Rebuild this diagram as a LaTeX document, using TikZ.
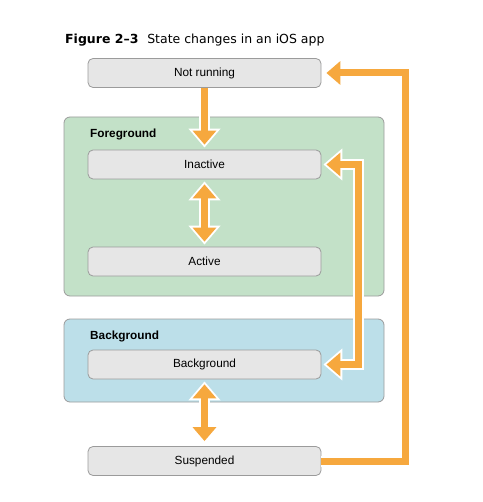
\documentclass[tikz,border=0pt]{standalone}
\usepackage{fontspec}
\setmainfont{Liberation Sans}
\newfontfamily\titlefont{DejaVu Sans}
\usetikzlibrary{positioning}
\usetikzlibrary{arrows.meta}
\definecolor{figNaranja}{RGB}{246,168,62}
\definecolor{figVerde}{RGB}{195,225,200}
\definecolor{figAzul}{RGB}{188,223,233}
\definecolor{figGris}{RGB}{230,230,230}
\definecolor{figGrisBorde}{RGB}{155,155,155}
\tikzset{
  estado/.style={
    rectangle, rounded corners=5pt, draw=figGrisBorde, line width=0.8pt,
    fill=figGris, minimum width=233pt, minimum height=29pt,
    font=\fontsize{11.8}{13}\selectfont, inner sep=0pt
  },
  zona/.style={
    rectangle, rounded corners=6pt, draw=figGrisBorde, line width=0.8pt,
    minimum width=320pt, inner sep=0pt
  },
  zonatit/.style={anchor=base west, inner sep=0pt,
    font=\bfseries\fontsize{11.8}{13}\selectfont},
  flecha/.style={draw=figNaranja, line width=7pt,
    -{Triangle[width=23pt,length=14pt]}, shorten >=5pt,
    preaction={draw=white, line width=11pt,
      -{Triangle[width=31pt,length=19pt]}, shorten >=2pt}},
  flechadoble/.style={draw=figNaranja, line width=7pt,
    {Triangle[width=23pt,length=14pt]}-{Triangle[width=23pt,length=14pt]},
    shorten >=5pt, shorten <=5pt,
    preaction={draw=white, line width=11pt,
      {Triangle[width=31pt,length=19pt]}-{Triangle[width=31pt,length=19pt]},
      shorten >=2pt, shorten <=2pt}}
}
\begin{document}
\begin{tikzpicture}[x=1pt, y=-1pt]
  \useasboundingbox (0,0) rectangle (482,502);

  % titulo
  \node[anchor=base west, inner sep=0pt, font=\titlefont\fontsize{12.5}{14}\selectfont] (titulo) at (65,44)
    {\textbf{Figure 2–3}\hspace{0.7em}State changes in an iOS app};

  % zonas
  \node[zona, fill=figVerde, minimum height=179pt] (fg) at (224,206.5) {};
  \node[zona, fill=figAzul, minimum height=83pt] (bg) at (224,360.5) {};
  \node[zonatit] (fgtit) at (90,138) {Foreground};
  \node[zonatit] (bgtit) at (90,339.5) {Background};

  % estados
  \node[estado] (notrun) at (204.5,73) {Not running};
  \node[estado] (inact) at (204.5,164.5) {Inactive};
  \node[estado] (active) at (204.5,261.5) {Active};
  \node[estado] (bgnode) at (204.5,364.5) {Background};
  \node[estado] (susp) at (204.5,461) {Suspended};

  \coordinate (interior) at (358,0);
  \coordinate (exterior) at (405.5,0);

  \draw[flecha] (notrun) -- (inact);
  \draw[flechadoble] (inact) -- (active);
  \draw[flechadoble] (bgnode) -- (susp);
  \draw[flechadoble] (inact.east) -| (interior |- bgnode.east) -- (bgnode.east);
  \draw[flecha] (susp.east) -| (exterior |- notrun.east) -- (notrun.east);
\end{tikzpicture}
\end{document}
